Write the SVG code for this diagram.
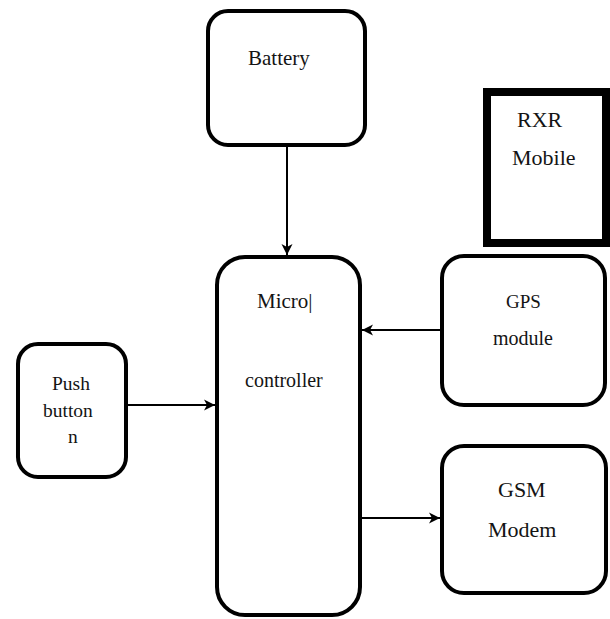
<svg xmlns="http://www.w3.org/2000/svg" width="610" height="619" viewBox="0 0 610 619">
  <style>
    .box { fill: #ffffff; stroke: #000000; stroke-width: 4; }
    .thick { fill: #ffffff; stroke: #000000; stroke-width: 8; }
    .label { font-family: 'Liberation Serif', 'DejaVu Serif', serif; fill: #141414; }
    .link { stroke: #000000; stroke-width: 2; fill: none; marker-end: url(#arrow); }
  </style>
  <defs>
    <marker id="arrow" markerUnits="userSpaceOnUse" markerWidth="12" markerHeight="12" refX="11" refY="6" orient="auto">
      <path d="M0,0.5 L11,6 L0,11.5 L3,6 Z" fill="#000000"/>
    </marker>
  </defs>

  <rect width="610" height="619" fill="#ffffff"/>

  <g id="connectors">
    <line class="link" x1="287" y1="147" x2="287" y2="255"/>
    <line class="link" x1="128" y1="405" x2="215" y2="405"/>
    <line class="link" x1="440" y1="330" x2="362" y2="330"/>
    <line class="link" x1="360" y1="518" x2="440" y2="518"/>
  </g>

  <g id="battery">
    <rect class="box" x="208" y="11" width="157" height="134" rx="20" ry="20"/>
    <text class="label" x="248" y="65" font-size="21">Battery</text>
  </g>

  <g id="rxr-mobile">
    <rect class="thick" x="487" y="92" width="119" height="151"/>
    <text class="label" x="517" y="127" font-size="22">RXR</text>
    <text class="label" x="512" y="165" font-size="22">Mobile</text>
  </g>

  <g id="microcontroller">
    <rect class="box" x="217" y="257" width="143" height="358" rx="28" ry="28"/>
    <text class="label" x="257" y="308" font-size="21">Micro|</text>
    <text class="label" x="245" y="387" font-size="20">controller</text>
  </g>

  <g id="push-button">
    <rect class="box" x="18" y="344" width="108" height="133" rx="20" ry="20"/>
    <text class="label" x="52" y="390" font-size="19.5">Push</text>
    <text class="label" x="43" y="417" font-size="19.5">button</text>
    <text class="label" x="68" y="443" font-size="19.5">n</text>
  </g>

  <g id="gps-module">
    <rect class="box" x="442" y="256" width="163" height="149" rx="22" ry="22"/>
    <text class="label" x="506" y="308" font-size="19">GPS</text>
    <text class="label" x="493" y="345" font-size="20">module</text>
  </g>

  <g id="gsm-modem">
    <rect class="box" x="442" y="446" width="164" height="147" rx="22" ry="22"/>
    <text class="label" x="498" y="497" font-size="22">GSM</text>
    <text class="label" x="488" y="537" font-size="22">Modem</text>
  </g>
</svg>
